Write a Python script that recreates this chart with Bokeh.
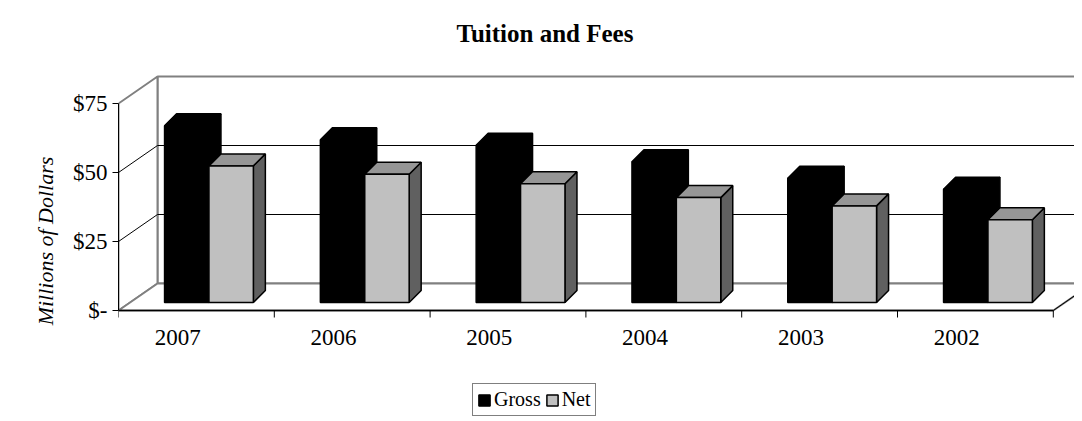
from bokeh.plotting import figure
from bokeh.models import Range1d, FixedTicker, Legend, LegendItem
from bokeh.core.properties import value
from bokeh.embed import file_html
from bokeh.resources import INLINE

years = ["2007", "2006", "2005", "2004", "2003", "2002"]
gross = [64, 59, 57, 51, 45, 41]
net = [49.5, 46.5, 43, 38, 35, 30]
y_ticks = [0, 25, 50, 75]
y_labels = ["$-", "$25", "$50", "$75"]

# pixel -> data conversion (1 category = 155.8px, 1 unit = 2.76px)
PX_X = 155.8
PX_Y = 2.76
WX, WY = 39 / PX_X, 27 / PX_Y          # wall depth
FX, FY = 11 / PX_X, 8 / PX_Y           # bar front depth
BX, BY = 23 / PX_X, 20 / PX_Y          # bar back depth
BAR_W = 0.285
n = len(years)
FONT = "Liberation Serif"

# frame runs down to the bottom of the canvas so the x axis and legend are not clipped
p = figure(frame_width=956, frame_height=361, output_backend="svg", toolbar_location=None,
           x_range=Range1d(0, 956 / PX_X), y_range=Range1d(-111 / PX_Y, 250 / PX_Y),
           min_border_left=118, min_border_right=0, min_border_top=60,
           min_border_bottom=0, x_axis_location=None,
           title="Tuition and Fees")
p.outline_line_color = None
p.grid.visible = False
p.background_fill_color = "white"
p.title.text_font = FONT
p.title.text_font_size = "25px"
p.title.text_font_style = "bold"
p.title.text_color = "black"
p.title.align = "left"
p.title.offset = 338
p.title.standoff = 28

# walls and floor
p.patch([WX, n + WX, n + WX, WX], [WY, WY, 75 + WY, 75 + WY],
        fill_color="white", line_color="#808080", line_width=2)
p.patch([0, WX, WX, 0], [0, WY, 75 + WY, 75], fill_color="white",
        line_color="#808080", line_width=2)
p.patch([0, n, n + WX, WX], [0, 0, WY, WY], fill_color="white",
        line_color="#808080", line_width=2)
p.line([n, n + WX], [0, WY], line_color="black", line_width=1)
for t in [25, 50]:
    p.line([0, WX, n + WX], [t, t + WY, t + WY], line_color="black", line_width=1)

# category axis along the front edge
p.line([0, n], [0, 0], line_color="black", line_width=1.5)
p.segment(x0=list(range(n + 1)), y0=[0] * (n + 1), x1=list(range(n + 1)),
          y1=[-7 / PX_Y] * (n + 1), line_color="black", line_width=1)
p.text(x=[i + 0.38 for i in range(n)], y=[-27 / PX_Y] * n, text=years,
       text_font=value(FONT), text_font_size="23px", text_color="black",
       text_align="center", text_baseline="middle")


def bar(x0, h, front, top, side):
    xf, yf = x0 + FX, FY
    xb, yb = x0 + BX, BY
    p.patch([xf + BAR_W, xb + BAR_W, xb + BAR_W, xf + BAR_W],
            [yf, yb, yb + h, yf + h], fill_color=side, line_color="black", line_width=1.5)
    p.patch([xf, xb, xb + BAR_W, xf + BAR_W], [yf + h, yb + h, yb + h, yf + h],
            fill_color=top, line_color="black", line_width=1.5)
    return p.quad(left=[xf], right=[xf + BAR_W], bottom=[yf], top=[yf + h],
                  fill_color=front, line_color="black", line_width=1.5)


for i in range(n):
    rg = bar(i + 0.225, gross[i], "black", "black", "black")
    rn = bar(i + 0.51, net[i], "#c0c0c0", "#969696", "#606060")

# value axis
ya = p.yaxis[0]
ya.ticker = FixedTicker(ticks=y_ticks)
ya.major_label_overrides = {t: l for t, l in zip(y_ticks, y_labels)}
ya.bounds = (0, 75)
ya.major_tick_in = 0
ya.major_tick_out = 6
ya.minor_tick_line_color = None
ya.axis_label = "Millions of Dollars"
ya.axis_label_text_font = FONT
ya.axis_label_text_font_style = "italic"
ya.axis_label_text_font_size = "22px"
ya.axis_label_text_color = "black"
ya.axis_label_standoff = 12
ya.major_label_text_font = FONT
ya.major_label_text_font_size = "23px"
ya.major_label_text_color = "black"
ya.axis_line_color = "black"

legend = Legend(items=[LegendItem(label="Gross", renderers=[rg]),
                       LegendItem(label="Net", renderers=[rn])],
                orientation="horizontal", location=(354, 5),
                label_text_font=FONT, label_text_font_size="20px",
                label_text_color="black",
                glyph_width=14, glyph_height=14, padding=4, spacing=4,
                label_standoff=3, margin=0, border_line_color="black",
                border_line_width=1, background_fill_color="white",
                background_fill_alpha=1)
p.add_layout(legend, "center")

open("out.html", "w").write(file_html(p, INLINE))
